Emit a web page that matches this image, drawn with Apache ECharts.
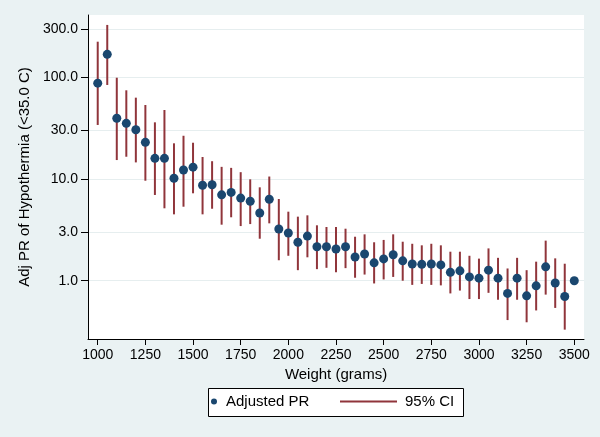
<!DOCTYPE html>
<html>
<head>
<meta charset="utf-8">
<script src="https://cdn.jsdelivr.net/npm/echarts@6/dist/echarts.min.js"></script>
<style>
html,body{margin:0;padding:0;background:#EAF2F3;}
#chart{width:600px;height:437px;}
</style>
</head>
<body>
<div id="chart"></div>
<script>
const weights = [1000,1050,1100,1150,1200,1250,1300,1350,1400,1450,1500,1550,1600,1650,1700,1750,1800,1850,1900,1950,2000,2050,2100,2150,2200,2250,2300,2350,2400,2450,2500,2550,2600,2650,2700,2750,2800,2850,2900,2950,3000,3050,3100,3150,3200,3250,3300,3350,3400,3450,3500];
const adjPR = [88,169,39.7,35.4,30.6,23.0,16.0,16.0,10.2,12.3,13.1,8.7,8.8,7.0,7.4,6.5,6.05,4.64,6.33,3.23,2.95,2.39,2.75,2.16,2.16,2.05,2.16,1.71,1.83,1.50,1.64,1.80,1.57,1.46,1.45,1.46,1.43,1.21,1.25,1.09,1.06,1.27,1.06,0.75,1.06,0.71,0.89,1.37,0.95,0.70,1.0];
const ciLow = [34.1,84.4,15.4,16.6,14.6,9.64,6.98,5.16,4.50,5.35,7.25,4.50,5.11,3.56,4.21,3.45,3.61,2.59,3.67,1.59,1.76,1.27,1.70,1.30,1.34,1.21,1.33,1.07,1.15,0.94,1.03,1.09,1.00,0.91,0.93,0.91,0.90,0.75,0.80,0.66,0.66,0.76,0.65,0.41,0.65,0.39,0.51,0.73,0.54,0.33,null];
const ciHigh = [225,329,99.5,74.8,63.3,53.6,36.2,47.9,22.5,26.7,22.8,16.5,15.0,13.2,12.9,11.7,9.95,8.30,10.6,6.37,4.78,4.27,4.40,3.51,3.38,3.38,3.25,2.71,2.86,2.39,2.52,2.86,2.42,2.31,2.23,2.31,2.23,1.93,1.93,1.76,1.65,2.08,1.68,1.32,1.68,1.27,1.54,2.48,1.66,1.47,null];
const xTicks = [1000,1250,1500,1750,2000,2250,2500,2750,3000,3250,3500];
const yTicks = [1,3,10,30,100,300];

const ciData = [];
const prData = [];
for (let i = 0; i < weights.length; i++) {
  prData.push([weights[i], adjPR[i]]);
  if (ciLow[i] != null && ciHigh[i] != null) ciData.push([weights[i], ciLow[i], ciHigh[i]]);
}

const FONT = 'Liberation Sans, Arial, sans-serif';
const chart = echarts.init(document.getElementById('chart'));
chart.setOption({
  backgroundColor: '#EAF2F3',
  animation: false,
  grid: { left: 88, top: 15, right: 16, bottom: 98, show: true, backgroundColor: '#FFFFFF', borderWidth: 0 },
  xAxis: {
    type: 'value', min: 949, max: 3551,
    name: 'Weight (grams)', nameLocation: 'middle', nameGap: 25,
    nameTextStyle: { fontFamily: FONT, fontSize: 15, color: '#000' },
    axisLine: { show: true, lineStyle: { color: '#000', width: 1 } },
    axisTick: { show: true, length: 6, lineStyle: { color: '#000' }, customValues: xTicks },
    axisLabel: { fontFamily: FONT, fontSize: 14, color: '#000', margin: 9, customValues: xTicks,
      formatter: v => String(Math.round(v)) },
    splitLine: { show: false }
  },
  yAxis: {
    type: 'log', min: 0.267, max: 412,
    name: 'Adj PR of Hypothermia (<35.0 C)', nameLocation: 'middle', nameGap: 55,
    nameTextStyle: { fontFamily: FONT, fontSize: 15, color: '#000' },
    axisLine: { show: true, lineStyle: { color: '#000', width: 1 } },
    axisTick: { show: true, length: 7, lineStyle: { color: '#000' }, customValues: yTicks },
    axisLabel: { fontFamily: FONT, fontSize: 14, color: '#000', margin: 10, customValues: yTicks,
      formatter: v => Number(v).toFixed(1) },
    splitLine: { show: true, lineStyle: { color: '#E6EEEF', width: 1 } }
  },
  legend: [
    { data: [{ name: 'Adjusted PR', icon: 'circle' }], left: 211, top: 394, itemWidth: 14, itemHeight: 6,
      textStyle: { fontFamily: FONT, fontSize: 15, color: '#000' }, padding: 0 },
    { data: [{ name: '95% CI', icon: 'rect' }], left: 340, top: 394, itemWidth: 57, itemHeight: 2,
      textStyle: { fontFamily: FONT, fontSize: 15, color: '#000', padding: [0,0,0,3] }, padding: 0 }
  ],
  graphic: [
    { type: 'rect', left: 208, top: 388, z: -1, shape: { width: 255, height: 28 },
      style: { fill: '#FFFFFF', stroke: '#000', lineWidth: 1 } }
  ],
  series: [
    {
      name: '95% CI', type: 'custom', data: ciData, encode: { x: 0, y: [1, 2] },
      itemStyle: { color: '#90353B' }, z: 2,
      renderItem: function (params, api) {
        const p1 = api.coord([api.value(0), api.value(1)]);
        const p2 = api.coord([api.value(0), api.value(2)]);
        return { type: 'line', shape: { x1: p1[0], y1: p1[1], x2: p2[0], y2: p2[1] },
          style: { stroke: '#90353B', lineWidth: 2 } };
      }
    },
    {
      name: 'Adjusted PR', type: 'scatter', data: prData, symbol: 'circle', symbolSize: 9,
      itemStyle: { color: '#1A476F', opacity: 1 }, z: 3
    }
  ]
});
</script>
</body>
</html>
